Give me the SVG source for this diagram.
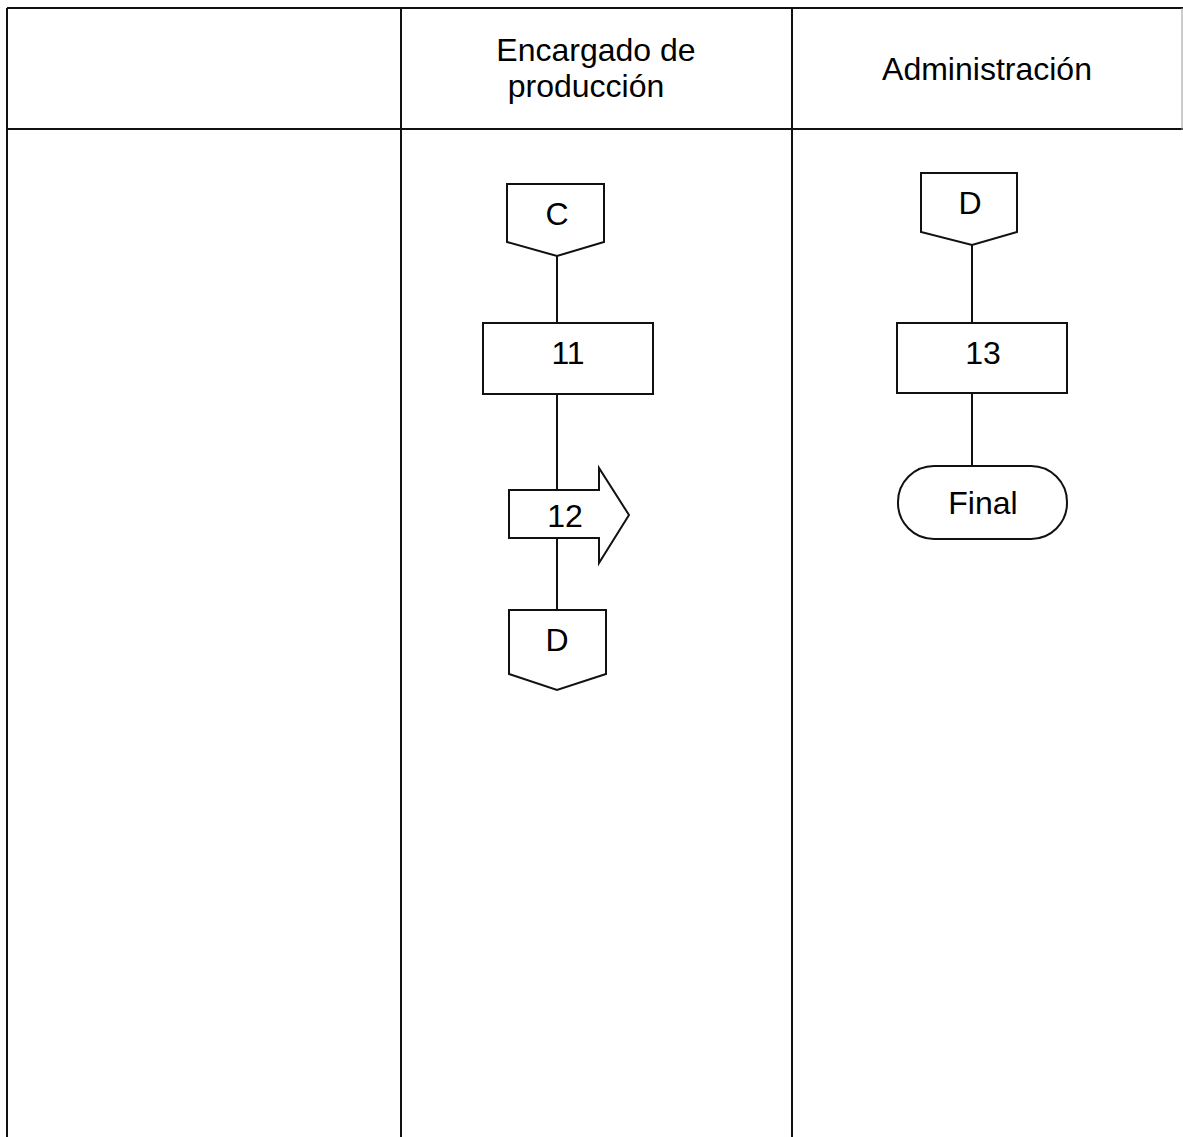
<svg xmlns="http://www.w3.org/2000/svg" width="1183" height="1137" viewBox="0 0 1183 1137">
<style>
.grid{stroke:#111;stroke-width:2;fill:none}
.shape{stroke:#111;stroke-width:2;fill:#fff}
.conn{stroke:#111;stroke-width:2;fill:none}
text{font-family:"Liberation Sans",Arial,sans-serif;fill:#000;text-anchor:middle}
.hdr{font-size:32px}
.lbl{font-size:32px}
</style>
<rect width="1183" height="1137" fill="#fff"/>
<g id="lanes">
<line class="grid" x1="7" y1="8" x2="1183" y2="8"/>
<line class="grid" x1="7" y1="129" x2="1183" y2="129"/>
<line class="grid" x1="7" y1="8" x2="7" y2="1137"/>
<line class="grid" x1="401" y1="8" x2="401" y2="1137"/>
<line class="grid" x1="792" y1="8" x2="792" y2="1137"/>
<line x1="1182" y1="8" x2="1182" y2="130" stroke="#999" stroke-width="1"/>
<text class="hdr" x="596" y="61">Encargado de</text>
<text class="hdr" x="586" y="97">producción</text>
<text class="hdr" x="987" y="80">Administración</text>
</g>
<g id="connectors">
<line class="conn" x1="557" y1="256" x2="557" y2="323"/>
<line class="conn" x1="557" y1="394" x2="557" y2="490"/>
<line class="conn" x1="557" y1="538" x2="557" y2="610"/>
<line class="conn" x1="972" y1="245" x2="972" y2="323"/>
<line class="conn" x1="972" y1="393" x2="972" y2="466"/>
</g>
<g id="node-C">
<path class="shape" d="M507,184 H604 V242 L557,256 L507,242 Z"/>
<text class="lbl" x="557" y="225">C</text>
</g>
<g id="node-11">
<rect class="shape" x="483" y="323" width="170" height="71"/>
<text class="lbl" x="568" y="364">11</text>
</g>
<g id="node-12">
<path class="shape" d="M509,490 H599 V468 L629,515 L599,563 V538 H509 Z"/>
<text class="lbl" x="565" y="527">12</text>
</g>
<g id="node-D1">
<path class="shape" d="M509,610 H606 V674 L557,690 L509,674 Z"/>
<text class="lbl" x="557" y="651">D</text>
</g>
<g id="node-D2">
<path class="shape" d="M921,173 H1017 V232 L972,245 L921,232 Z"/>
<text class="lbl" x="970" y="214">D</text>
</g>
<g id="node-13">
<rect class="shape" x="897" y="323" width="170" height="70"/>
<text class="lbl" x="983" y="364">13</text>
</g>
<g id="node-final">
<rect class="shape" x="898" y="466" width="169" height="73" rx="36" ry="36"/>
<text class="lbl" x="983" y="514">Final</text>
</g>
</svg>
